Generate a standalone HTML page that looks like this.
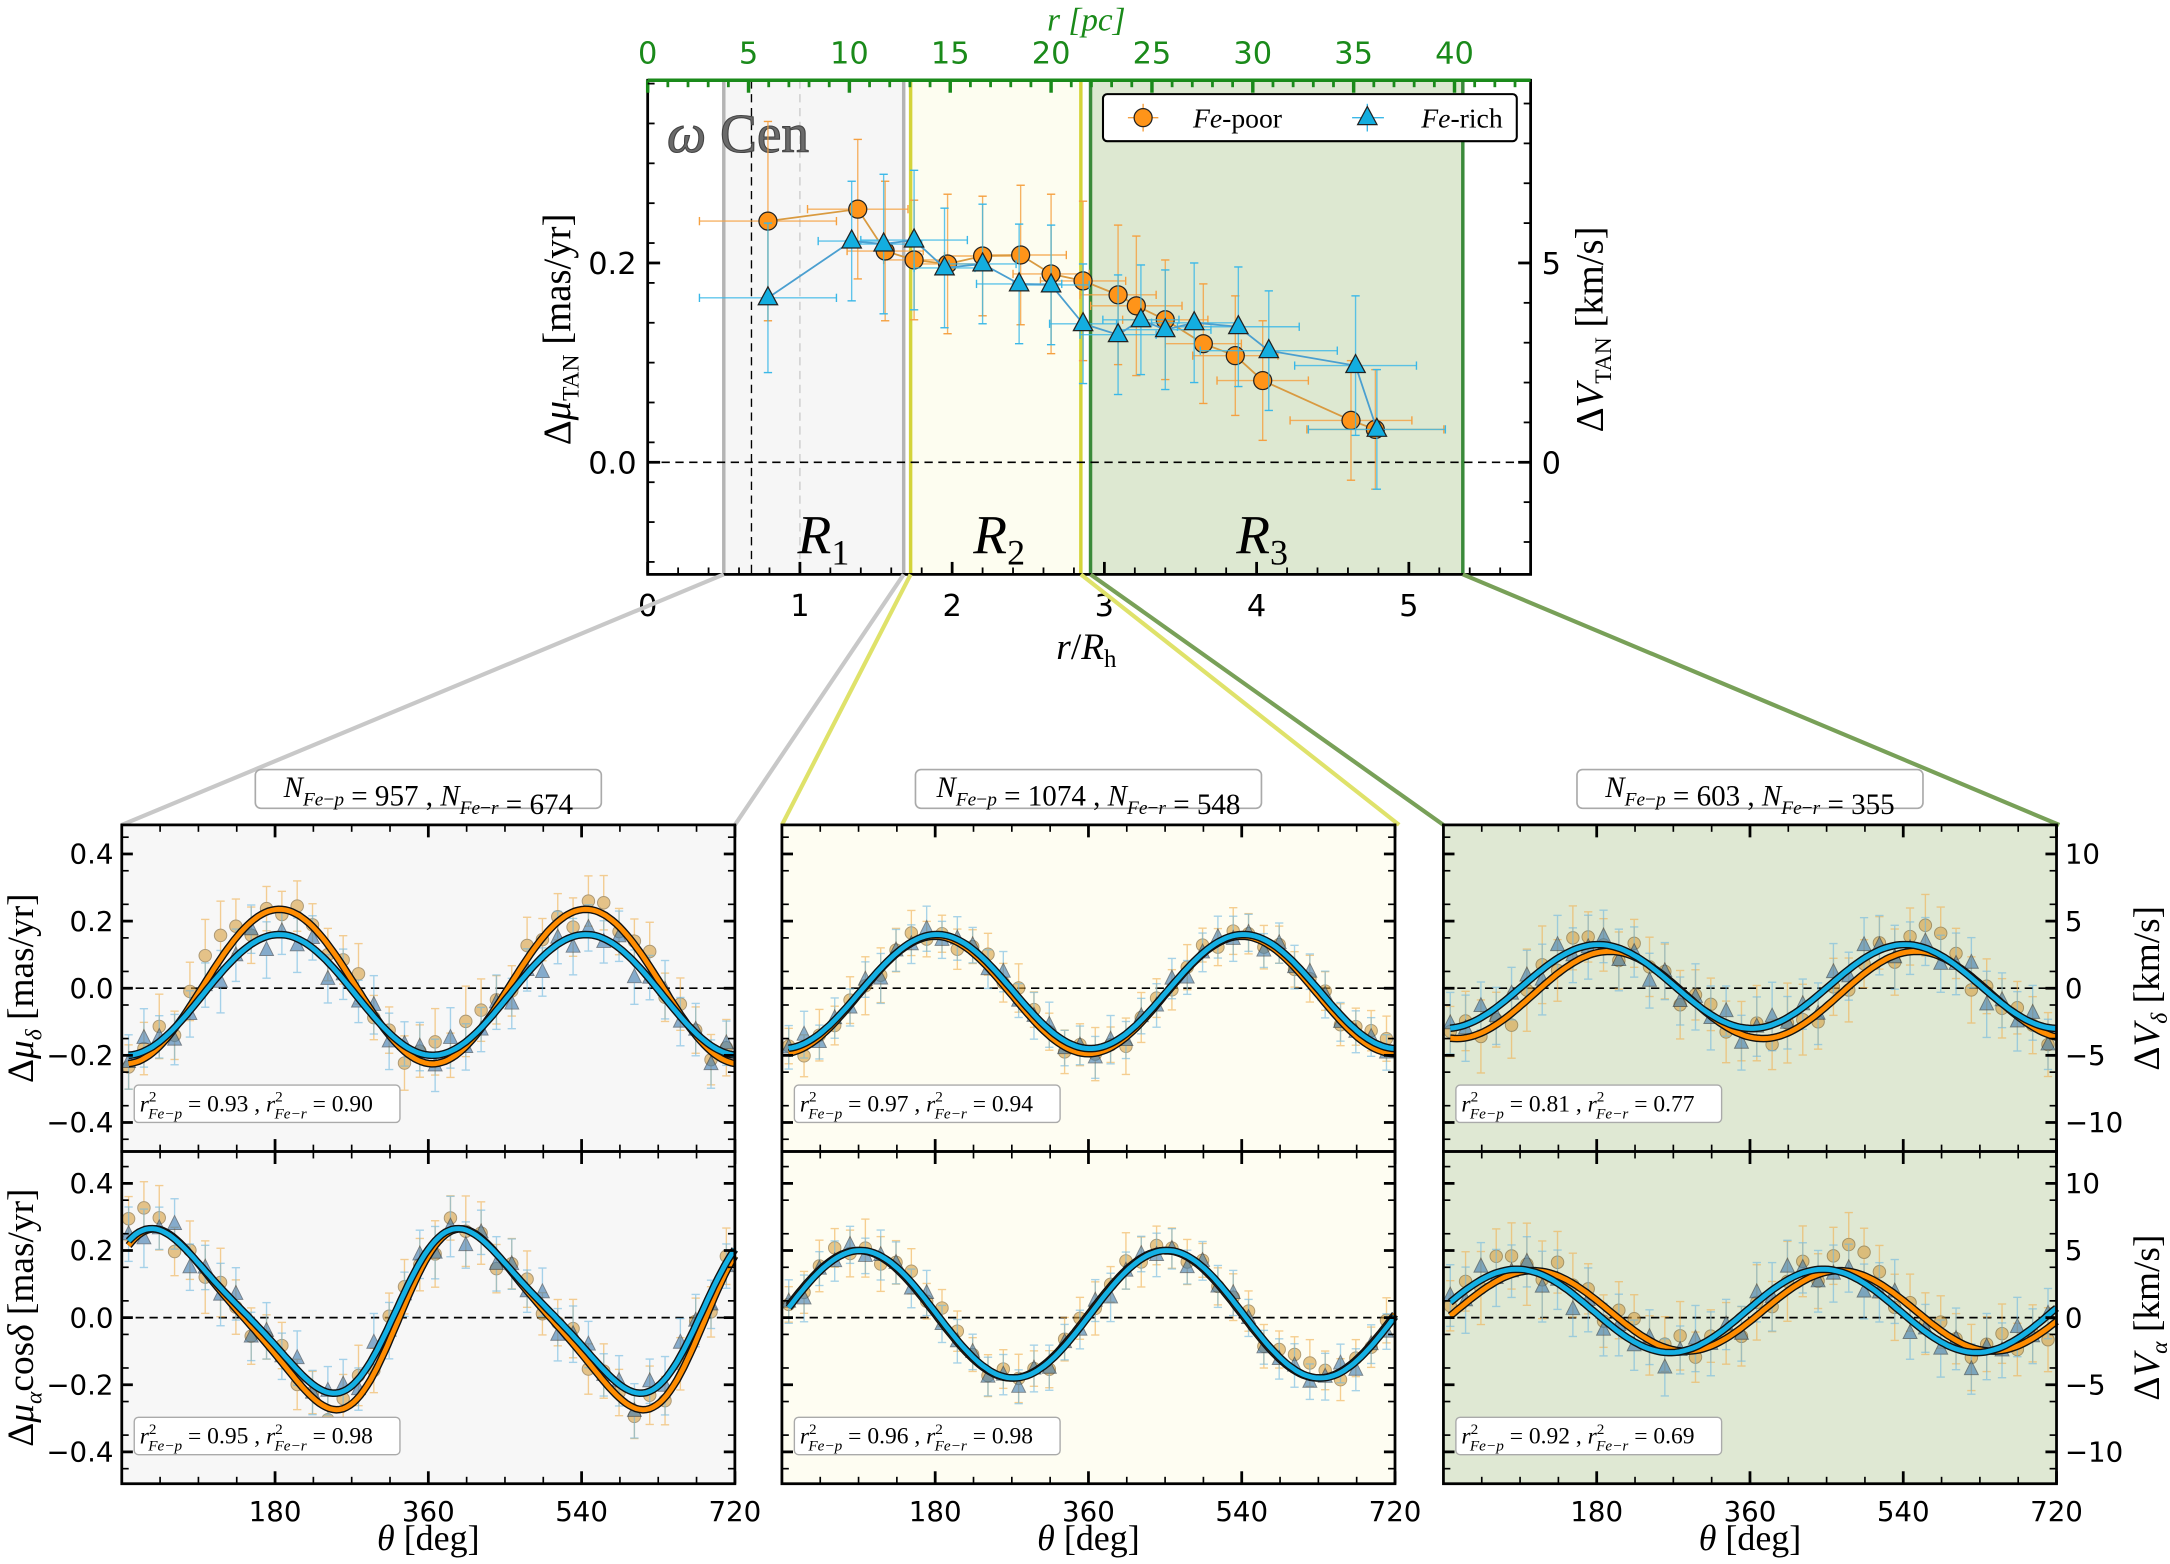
<!DOCTYPE html>
<html><head><meta charset="utf-8">
<style>
html,body{margin:0;padding:0;background:#fff;}
svg{display:block;}
text{font-family:"DejaVu Sans","Liberation Sans",sans-serif;}
.m{font-family:"Liberation Serif",serif;}
</style></head>
<body>
<svg id="fig" xmlns="http://www.w3.org/2000/svg" width="2170" height="1564" viewBox="0 0 1568 1130" preserveAspectRatio="none">
<g id="top"></g>
<g id="links"></g>
<g id="bottom"></g>
</svg>
<script>
// ---------- TOP CHART DATA ----------
const poorR   = [0.79,1.38,1.56,1.75,1.97,2.20,2.45,2.65,2.86,3.09,3.21,3.40,3.65,3.86,4.04,4.62,4.78];
const poorV   = [0.242,0.254,0.212,0.203,0.199,0.207,0.208,0.189,0.182,0.168,0.157,0.143,0.119,0.107,0.082,0.042,0.033];
const poorXE  = [0.45,0.33,0.25,0.20,0.20,0.25,0.30,0.25,0.28,0.25,0.30,0.28,0.25,0.28,0.30,0.40,0.45];
const poorYE  = [0.10,0.07,0.07,0.06,0.07,0.06,0.07,0.08,0.08,0.07,0.07,0.06,0.06,0.06,0.06,0.06,0.06];
const richR   = [0.79,1.34,1.55,1.75,1.95,2.20,2.44,2.65,2.86,3.09,3.24,3.40,3.59,3.88,4.08,4.65,4.79];
const richV   = [0.165,0.222,0.219,0.223,0.195,0.199,0.179,0.178,0.139,0.128,0.143,0.133,0.140,0.136,0.112,0.097,0.033];
const richXE  = [0.45,0.22,0.25,0.35,0.20,0.22,0.28,0.25,0.22,0.25,0.25,0.30,0.28,0.40,0.45,0.40,0.45];
const richYE  = [0.075,0.06,0.07,0.07,0.06,0.06,0.06,0.06,0.06,0.06,0.055,0.06,0.06,0.06,0.06,0.07,0.06];
const topXTicks = [0,1,2,3,4,5];
const topYTicks = [0.2,0.0];
const topPcTicks = [0,5,10,15,20,25,30,35,40];
const rightKmTicks = [5,0];
// ---------- BOTTOM PANELS DATA ----------
const panelN = [["957","674"],["1074","548"],["603","355"]];
const r2Delta = [["0.93","0.90"],["0.97","0.94"],["0.81","0.77"]];
const r2Alpha = [["0.95","0.98"],["0.96","0.98"],["0.92","0.69"]];
// fitted model params per panel: [c, A, theta0(deg), skew]
const fitDeltaPoor = [[0.005,0.23,95,0],[-0.02,0.175,90,0],[-0.02,0.13,105,0]];
const fitDeltaRich = [[-0.02,0.18,95,0],[-0.01,0.17,92,0],[0.005,0.125,92,0]];
const fitAlphaPoor = [[-0.005,0.255,-35,0.18],[0.01,0.19,0,0],[0.02,0.12,15,0]];
const fitAlphaRich = [[0.02,0.232,-38,0.18],[0.01,0.19,2,0],[0.02,0.124,-4,0]];
const thetaPts = [8,26,44,62,80,98,116,134,152,170,188,206,224,242,260,278,296,314,332,350,368,386,404,422,440,458,476,494,512,530,548,566,584,602,620,638,656,674,692,710];
const residPoor = [0.3,-0.5,0.8,-0.2,0.6,1.2,-0.4,0.9,1.6,1.4,0.7,-0.8,0.2,-0.3,0.5,0.1,-0.6,0.4,1.0,-0.2,0.3,-0.7,0.6,1.3,0.2,1.5,1.1,0.4,-0.5,0.8,-0.1,0.3,-0.9,0.5,0.7,-0.3,0.2,0.9,-0.4,0.6];
const residRich = [-0.6,0.4,-0.2,0.7,-0.9,0.1,0.5,-0.3,0.2,-1.1,0.6,-0.4,0.8,0.3,-0.7,-0.2,0.4,-0.5,0.1,0.9,-0.8,0.2,-0.4,0.6,-1.0,0.3,-0.2,0.7,-0.5,0.1,0.4,-0.6,0.8,-0.3,-0.1,0.5,-0.7,0.2,-0.9,0.4];
const residScale = [0.05,0.03,0.05];
const errHalf = [0.075,0.06,0.085];
const bottomXTicks = [180,360,540,720];
const bottomYTicks = [0.4,0.2,0.0,-0.2,-0.4];
const rightVTicks = [10,5,0,-5,-10];

const NS="http://www.w3.org/2000/svg";
function el(tag,attrs,parent){const e=document.createElementNS(NS,tag);for(const k in attrs)e.setAttribute(k,attrs[k]);parent.appendChild(e);return e;}
const ORANGE="#ff9419", BLUE="#13aee0";

// ===== TOP CHART =====
const T=document.getElementById('top');
const TL=468,TR=1106,TT=58,TB=415;
const X=r=>TL+110*r, Y=v=>334-720*v, Xpc=p=>TL+14.575*p;
el('rect',{x:TL,y:TT,width:TR-TL,height:TB-TT,fill:'#fff'},T);
let rg=el('rect',{x:523,y:TT,width:130,height:TB-TT,fill:'#f6f6f6'},T);

rg=el('rect',{x:658,y:TT,width:123,height:TB-TT,fill:'#fdfdf0'},T);

rg=el('rect',{x:788,y:TT,width:269,height:TB-TT,fill:'#dde8d1'},T);

[[523,'#b4b4b4'],[653,'#b4b4b4'],[658,'#d4d43a'],[781,'#d4d43a'],[788,'#3a8a3a'],[1057,'#3a8a3a']].forEach(a=>{
 el('line',{x1:a[0],x2:a[0],y1:TT,y2:TB,stroke:a[1],'stroke-width':2.5},T);});
el('line',{x1:543,x2:543,y1:TT,y2:TB,stroke:'#000','stroke-width':1,'stroke-dasharray':'6,4'},T);
el('line',{x1:578,x2:578,y1:TT,y2:TB,stroke:'#ccc','stroke-width':1,'stroke-dasharray':'6,4'},T);
el('line',{x1:TL,x2:TR,y1:Y(0),y2:Y(0),stroke:'#000','stroke-width':1.2,'stroke-dasharray':'6,4'},T);
[['R','1',595],['R','2',722],['R','3',912]].forEach(a=>{
 const t=el('text',{x:a[2],y:400,'font-size':40,'font-style':'italic','text-anchor':'middle',class:'m'},T);
 
 t.innerHTML='R<tspan font-size="26" font-style="normal" dy="8">'+a[1]+'</tspan>';});
let om=el('text',{x:482,y:110,'font-size':40,fill:'#6a6a6a',class:'m',stroke:'#444','stroke-width':0.8},T);

om.innerHTML='<tspan font-style="italic">ω</tspan> Cen';
function series(R,V,XE,YE,col,shape,name){
 const g=el('g',{},T);
 for(let i=0;i<R.length;i++){
  el('line',{x1:X(R[i]-XE[i]),x2:X(R[i]+XE[i]),y1:Y(V[i]),y2:Y(V[i]),stroke:col,'stroke-width':1,opacity:0.8},g);
  el('line',{x1:X(R[i]),x2:X(R[i]),y1:Y(V[i]-YE[i]),y2:Y(V[i]+YE[i]),stroke:col,'stroke-width':1,opacity:0.8},g);
  [[X(R[i]-XE[i]),Y(V[i]),0],[X(R[i]+XE[i]),Y(V[i]),0],[X(R[i]),Y(V[i]-YE[i]),1],[X(R[i]),Y(V[i]+YE[i]),1]].forEach(c=>{
   if(c[2]) el('line',{x1:c[0]-3,x2:c[0]+3,y1:c[1],y2:c[1],stroke:col,'stroke-width':1},g);
   else el('line',{x1:c[0],x2:c[0],y1:c[1]-3,y2:c[1]+3,stroke:col,'stroke-width':1},g);});
 }
 el('polyline',{points:R.map((r,i)=>X(r)+','+Y(V[i])).join(' '),fill:'none',stroke:shape==='c'?'#d99a40':'#4a9fd0','stroke-width':1.3},g);
 for(let i=0;i<R.length;i++){
  let m;
  if(shape==='c') m=el('circle',{cx:X(R[i]),cy:Y(V[i]),r:6.5,fill:ORANGE,stroke:'#222','stroke-width':0.9},g);
  else {const x=X(R[i]),y=Y(V[i]);m=el('polygon',{points:`${x},${y-8} ${x-7},${y+5} ${x+7},${y+5}`,fill:BLUE,stroke:'#222','stroke-width':0.9},g);}
  
 }
}
series(poorR,poorV,poorXE,poorYE,'#f5a040','c','fe-poor-series');
series(richR,richV,richXE,richYE,'#3ab8e8','t','fe-rich-series');
el('rect',{x:TL,y:TT,width:TR-TL,height:TB-TT,fill:'none',stroke:'#000','stroke-width':2},T);
el('line',{x1:TL,x2:TR,y1:TT,y2:TT,stroke:'#1a8a1a','stroke-width':2.5},T);
topXTicks.forEach(v=>{el('line',{x1:X(v),x2:X(v),y1:TB,y2:TB-9,stroke:'#000','stroke-width':2},T);
 const t=el('text',{x:X(v),y:TB+30,'font-size':22,'text-anchor':'middle'},T);t.textContent=v;
 });
for(let v=0.2;v<5.8;v+=0.2){el('line',{x1:X(v),x2:X(v),y1:TB,y2:TB-5,stroke:'#000','stroke-width':1.3},T);}
topPcTicks.forEach(p=>{el('line',{x1:Xpc(p),x2:Xpc(p),y1:TT,y2:TT+9,stroke:'#1a8a1a','stroke-width':2.5},T);
 const t=el('text',{x:Xpc(p),y:TT-12,'font-size':22,'text-anchor':'middle',fill:'#1a8a1a'},T);t.textContent=p;
 });
for(let p=1;p<44;p++){el('line',{x1:Xpc(p),x2:Xpc(p),y1:TT,y2:TT+5,stroke:'#1a8a1a','stroke-width':2},T);}
topYTicks.forEach(v=>{el('line',{x1:TL,x2:TL+9,y1:Y(v),y2:Y(v),stroke:'#000','stroke-width':2},T);
 const t=el('text',{x:TL-8,y:Y(v)+8,'font-size':22,'text-anchor':'end'},T);t.textContent=v.toFixed(1);
 });
for(let v=-0.1;v<0.38;v+=0.04){el('line',{x1:TL,x2:TL+5,y1:Y(v),y2:Y(v),stroke:'#000','stroke-width':1.3},T);}
rightKmTicks.forEach(k=>{const v=k/25;el('line',{x1:TR,x2:TR-9,y1:Y(v),y2:Y(v),stroke:'#000','stroke-width':2},T);
 const t=el('text',{x:TR+8,y:Y(v)+8,'font-size':22},T);t.textContent=k;
 });
for(let k=-2;k<9.6;k+=1){el('line',{x1:TR,x2:TR-5,y1:Y(k/25),y2:Y(k/25),stroke:'#000','stroke-width':1.3},T);}
let lab=el('text',{x:785,y:476,'font-size':27,'text-anchor':'middle',class:'m'},T);

lab.innerHTML='<tspan font-style="italic">r</tspan>/<tspan font-style="italic">R</tspan><tspan font-size="18" dy="6">h</tspan>';
lab=el('text',{x:785,y:22,'font-size':24,'text-anchor':'middle',fill:'#1a8a1a',class:'m','font-style':'italic'},T);

lab.textContent='r [pc]';
lab=el('text',{x:0,y:0,'font-size':28,'text-anchor':'middle',class:'m',transform:'translate(412,238) rotate(-90)'},T);

lab.innerHTML='Δ<tspan font-style="italic">μ</tspan><tspan font-size="17" dy="6">TAN</tspan><tspan dy="-6"> [mas/yr]</tspan>';
lab=el('text',{x:0,y:0,'font-size':28,'text-anchor':'middle',class:'m',transform:'translate(1158,238) rotate(-90)'},T);

lab.innerHTML='Δ<tspan font-style="italic">V</tspan><tspan font-size="17" dy="6">TAN</tspan><tspan dy="-6"> [km/s]</tspan>';
const lg=el('g',{},T);
el('rect',{x:797,y:68,width:299,height:34,rx:3,fill:'#fff',stroke:'#000','stroke-width':1.5},lg);
el('line',{x1:815,x2:837,y1:85,y2:85,stroke:'#f5a040'},lg);el('line',{x1:826,x2:826,y1:75,y2:95,stroke:'#f5a040'},lg);
el('circle',{cx:826,cy:85,r:6.5,fill:ORANGE,stroke:'#222','stroke-width':0.9},lg);
let lt=el('text',{x:862,y:92,'font-size':20,class:'m'},lg);
lt.innerHTML='<tspan font-style="italic">Fe</tspan>-poor';
el('line',{x1:977,x2:1000,y1:85,y2:85,stroke:'#3ab8e8'},lg);el('line',{x1:988,x2:988,y1:75,y2:95,stroke:'#3ab8e8'},lg);
el('polygon',{points:'988,77 981,90 995,90',fill:BLUE,stroke:'#222','stroke-width':0.9},lg);
lt=el('text',{x:1027,y:92,'font-size':20,class:'m'},lg);
lt.innerHTML='<tspan font-style="italic">Fe</tspan>-rich';

// ===== CONNECTORS =====
const L=document.getElementById('links');
[[523,88,'#c8c8c8'],[653,531,'#c8c8c8'],[658,565,'#dfe26a'],[781,1011,'#dfe26a'],[788,1043,'#78a058'],[1057,1488,'#78a058']].forEach(a=>{
 const l=el('line',{x1:a[0],y1:TB,x2:a[1],y2:596,stroke:a[2],'stroke-width':3},L);
 });

// ===== BOTTOM PANELS =====
const B=document.getElementById('bottom');
const panelsL=[88,565,1043], PW=443;
const bgs=['#f7f7f7','#fefdf2','#dfe8d3'];
const rows=[{top:596,bot:832,c:714},{top:832,bot:1072,c:952}];
function model(p,t){const x=(t-p[2])*Math.PI/180;return p[0]+p[1]*(Math.sin(x)+p[3]*Math.sin(2*x));}
function sub(txt){return '<tspan font-size="14" dy="6">'+txt+'</tspan><tspan dy="-6"></tspan>';}
for(let pi=0;pi<3;pi++){
 const pl=panelsL[pi];const px=t=>pl+t*PW/720;
 const pg=el('g',{},B);
 const nb=el('g',{},pg);
 el('rect',{x:pl+PW/2-125,y:556,width:250,height:28,rx:4,fill:'#fff',stroke:'#aaa','stroke-width':1.2},nb);
 const nt=el('text',{x:pl+PW/2,y:576,'font-size':21,'text-anchor':'middle',class:'m'},nb);
 nt.innerHTML='<tspan font-style="italic">N</tspan>'+sub('<tspan font-style="italic">Fe</tspan>−<tspan font-style="italic">p</tspan>')+' = '+panelN[pi][0]+' ,  <tspan font-style="italic">N</tspan>'+sub('<tspan font-style="italic">Fe</tspan>−<tspan font-style="italic">r</tspan>')+' = '+panelN[pi][1];
 for(let ri=0;ri<2;ri++){
  const R=rows[ri];const py=v=>R.c-242.5*v;
  const fp=ri===0?fitDeltaPoor[pi]:fitAlphaPoor[pi];
  const fr=ri===0?fitDeltaRich[pi]:fitAlphaRich[pi];
  const sg=el('g',{},pg);
  el('rect',{x:pl,y:R.top,width:PW,height:R.bot-R.top,fill:bgs[pi]},sg);
  el('line',{x1:pl,x2:pl+PW,y1:py(0),y2:py(0),stroke:'#000','stroke-width':1.2,'stroke-dasharray':'6,4'},sg);
  [[fp,residPoor,'#e8a640','c',3],[fr,residRich,'#5a9ccc','t',11]].forEach(S=>{
   const gg=el('g',{opacity:0.6},sg);
   const off=S[4]+pi*7+ri*5;
   thetaPts.forEach((t,i)=>{
    const v=model(S[0],t)+residScale[pi]*S[1][(i+off)%S[1].length];
    const x=px(t),y=py(v),e=errHalf[pi]*242.5*(0.8+0.4*Math.abs(S[1][(i+3)%40]));
    const ec=S[3]==='c'?'#f0b050':'#70b8e0';
    el('line',{x1:x,x2:x,y1:y-e,y2:y+e,stroke:ec,'stroke-width':1},gg);
    el('line',{x1:x-3,x2:x+3,y1:y-e,y2:y-e,stroke:ec,'stroke-width':1},gg);
    el('line',{x1:x-3,x2:x+3,y1:y+e,y2:y+e,stroke:ec,'stroke-width':1},gg);
    let m;
    if(S[3]==='c') m=el('circle',{cx:x,cy:y,r:4.5,fill:'#d8a040',stroke:'#7a5a20','stroke-width':0.7},gg);
    else m=el('polygon',{points:`${x},${y-6} ${x-5},${y+4} ${x+5},${y+4}`,fill:'#3a7ab0',stroke:'#234','stroke-width':0.7},gg);
    
   });
  });
  [[fp,'#ff8c00','fe-poor-fit'],[fr,'#14b0e4','fe-rich-fit']].forEach(C=>{
   const pts=[];for(let t=8;t<=720;t+=4)pts.push(px(t).toFixed(1)+','+py(model(C[0],t)).toFixed(1));
   el('polyline',{points:pts.join(' '),fill:'none',stroke:'#111','stroke-width':5.5},sg);
   const c=el('polyline',{points:pts.join(' '),fill:'none',stroke:C[1],'stroke-width':3.5},sg);
   
  });
  const r2=ri===0?r2Delta[pi]:r2Alpha[pi];
  const rb=el('g',{},sg);
  el('rect',{x:pl+9,y:R.bot-48,width:192,height:27,rx:3,fill:'#fff',stroke:'#aaa','stroke-width':1},rb);
  const rt=el('text',{x:pl+13,y:R.bot-29,'font-size':17,class:'m'},rb);
  rt.innerHTML='<tspan font-style="italic">r</tspan><tspan font-size="11" dy="-7">2</tspan><tspan font-size="11" dx="-6" dy="12" font-style="italic">Fe−p</tspan><tspan dy="-5"> = '+r2[0]+' ,  </tspan><tspan font-style="italic">r</tspan><tspan font-size="11" dy="-7">2</tspan><tspan font-size="11" dx="-6" dy="12" font-style="italic">Fe−r</tspan><tspan dy="-5"> = '+r2[1]+'</tspan>';
  el('rect',{x:pl,y:R.top,width:PW,height:R.bot-R.top,fill:'none',stroke:'#000','stroke-width':2},sg);
  bottomXTicks.forEach(t=>{el('line',{x1:px(t),x2:px(t),y1:R.bot,y2:R.bot-9,stroke:'#000','stroke-width':2},sg);
   el('line',{x1:px(t),x2:px(t),y1:R.top,y2:R.top+9,stroke:'#000','stroke-width':2},sg);});
  for(let t=45;t<720;t+=45){el('line',{x1:px(t),x2:px(t),y1:R.bot,y2:R.bot-5,stroke:'#000','stroke-width':1.2},sg);
   el('line',{x1:px(t),x2:px(t),y1:R.top,y2:R.top+5,stroke:'#000','stroke-width':1.2},sg);}
  bottomYTicks.forEach(v=>{el('line',{x1:pl,x2:pl+8,y1:py(v),y2:py(v),stroke:'#000','stroke-width':2},sg);
   el('line',{x1:pl+PW,x2:pl+PW-8,y1:py(v),y2:py(v),stroke:'#000','stroke-width':2},sg);});
  for(let v=-0.45;v<0.48;v+=0.1){el('line',{x1:pl,x2:pl+5,y1:py(v),y2:py(v),stroke:'#000','stroke-width':1.2},sg);
   el('line',{x1:pl+PW,x2:pl+PW-5,y1:py(v),y2:py(v),stroke:'#000','stroke-width':1.2},sg);}
  if(pi===0){
   bottomYTicks.forEach(v=>{const t=el('text',{x:pl-6,y:py(v)+7,'font-size':20,'text-anchor':'end'},sg);
    t.textContent=(v<0?'−':'')+Math.abs(v).toFixed(1);});
   const yl=el('text',{x:0,y:0,'font-size':27,'text-anchor':'middle',class:'m',transform:`translate(24,${R.c}) rotate(-90)`},sg);
   
   yl.innerHTML=ri===0?'Δ<tspan font-style="italic">μ</tspan><tspan font-size="17" dy="6" font-style="italic">δ</tspan><tspan dy="-6"> [mas/yr]</tspan>':'Δ<tspan font-style="italic">μ</tspan><tspan font-size="17" dy="6" font-style="italic">α</tspan><tspan dy="-6">cos<tspan font-style="italic">δ</tspan> [mas/yr]</tspan>';
  }
  if(pi===2){
   rightVTicks.forEach(k=>{const t=el('text',{x:pl+PW+6,y:py(k/25)+7,'font-size':20},sg);
    t.textContent=(k<0?'−':'')+Math.abs(k);});
   const yl=el('text',{x:0,y:0,'font-size':27,'text-anchor':'middle',class:'m',transform:`translate(1560,${R.c}) rotate(-90)`},sg);
   
   yl.innerHTML='Δ<tspan font-style="italic">V</tspan><tspan font-size="17" dy="6" font-style="italic">'+(ri===0?'δ':'α')+'</tspan><tspan dy="-6"> [km/s]</tspan>';
  }
  if(ri===1){
   bottomXTicks.forEach(t=>{const tt=el('text',{x:px(t),y:R.bot+27,'font-size':20,'text-anchor':'middle'},sg);
    tt.textContent=t;});
   const xl=el('text',{x:pl+PW/2,y:1120,'font-size':26,'text-anchor':'middle',class:'m'},sg);
   
   xl.innerHTML='<tspan font-style="italic">θ</tspan> [deg]';
  }
 }
}
</script>
</body></html>
